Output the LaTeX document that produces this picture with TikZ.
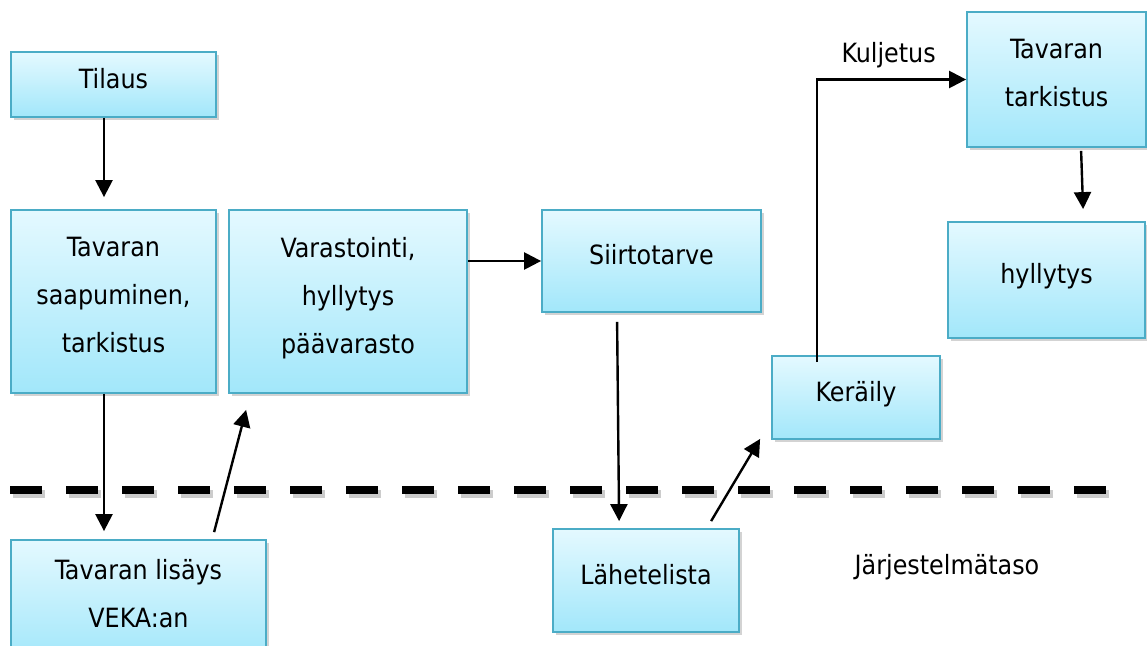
\documentclass[tikz,border=0pt]{standalone}
\usepackage{fontspec}
\setmainfont{DejaVu Sans Condensed}
\usetikzlibrary{arrows.meta,positioning,calc,shadows}
\definecolor{boxline}{RGB}{75,172,198}
\definecolor{boxtop}{RGB}{228,249,255}
\definecolor{boxbottom}{RGB}{162,231,250}

\begin{document}
\begin{tikzpicture}[
    x=1pt, y=-1pt,
    every node/.style={font=\fontsize{26.5}{48}\selectfont},
    flowbox/.style={rectangle, draw=boxline, line width=1.8pt, align=center,
        inner sep=0pt, text depth=13pt, top color=boxtop, bottom color=boxbottom,
        drop shadow={shadow xshift=3pt, shadow yshift=-3pt, opacity=0.35}},
    flowarrow/.style={-{Triangle[length=17pt, width=17pt]}, line width=2.4pt},
    splitline/.style={line width=8pt, dash pattern=on 32pt off 24pt},
]
\useasboundingbox (0,0) rectangle (1147,645);

% ===== Upper level: boxes =====
\node[flowbox, minimum width=205pt, minimum height=65pt] (tilaus) at (113.5,84.5) {Tilaus};
\node[flowbox, minimum width=205pt, minimum height=183pt] (saapu) at (113.5,301.5)
    {Tavaran\\saapuminen,\\tarkistus};
\node[flowbox, minimum width=238pt, minimum height=183pt] (varast) at (348,301.5)
    {Varastointi,\\hyllytys\\päävarasto};
\node[flowbox, minimum width=219pt, minimum height=102pt] (siirto) at (651.5,261) {Siirtotarve};
\node[flowbox, minimum width=168pt, minimum height=83pt] (keraily) at (856,397.5) {Keräily};
\node[flowbox, minimum width=179pt, minimum height=135pt] (tarkistus) at (1056.5,79.5)
    {Tavaran\\tarkistus};
\node[flowbox, minimum width=197pt, minimum height=116pt] (hylly) at (1046.5,280) {hyllytys};

% ===== Dashed border between levels =====
\draw[splitline, black, opacity=0.2] (13,494) -- (1109,494);
\draw[splitline] (10,490) -- (1106,490);

% ===== Lower level: system =====
\node[flowbox, minimum width=255pt, minimum height=120pt] (lisays) at (138.5,600)
    {Tavaran lisäys\\VEKA:an};
\node[flowbox, minimum width=186pt, minimum height=103pt] (lahete) at (646,580.5) {Lähetelista};
\node[anchor=base] (taso) at (947,574) {Järjestelmätaso};

% ===== Arrows =====
\coordinate (drop) at ($(tilaus.south)+(-9.5,0)$);
\draw[flowarrow, shorten >=12pt] (drop) -- (drop |- saapu.north);
\coordinate (drop2) at ($(saapu.south)+(-9.5,0)$);
\draw[flowarrow, shorten >=8pt] (drop2) -- (drop2 |- lisays.north);
\draw[flowarrow] ($(lisays.north west)+(204,-7)$) -- ($(varast.south west)+(18,16)$);
\draw[flowarrow] (varast.east |- siirto.west) -- (siirto.west);
\draw[flowarrow] ($(siirto.south west)+(76,9)$) -- ($(lahete.north west)+(67,-7)$);
\draw[flowarrow] ($(lahete.north west)+(159,-7)$) -- ($(keraily.south west)+(-11,-1)$);
\draw[flowarrow] ($(keraily.north west)+(46,7)$) |- (tarkistus.west)
    node[pos=0.75, anchor=base, yshift=17pt, xshift=-3pt] (kulj) {Kuljetus};
\draw[flowarrow] ($(tarkistus.south west)+(115,3)$) -- ($(hylly.north west)+(136,-12)$);

\end{tikzpicture}
\end{document}
